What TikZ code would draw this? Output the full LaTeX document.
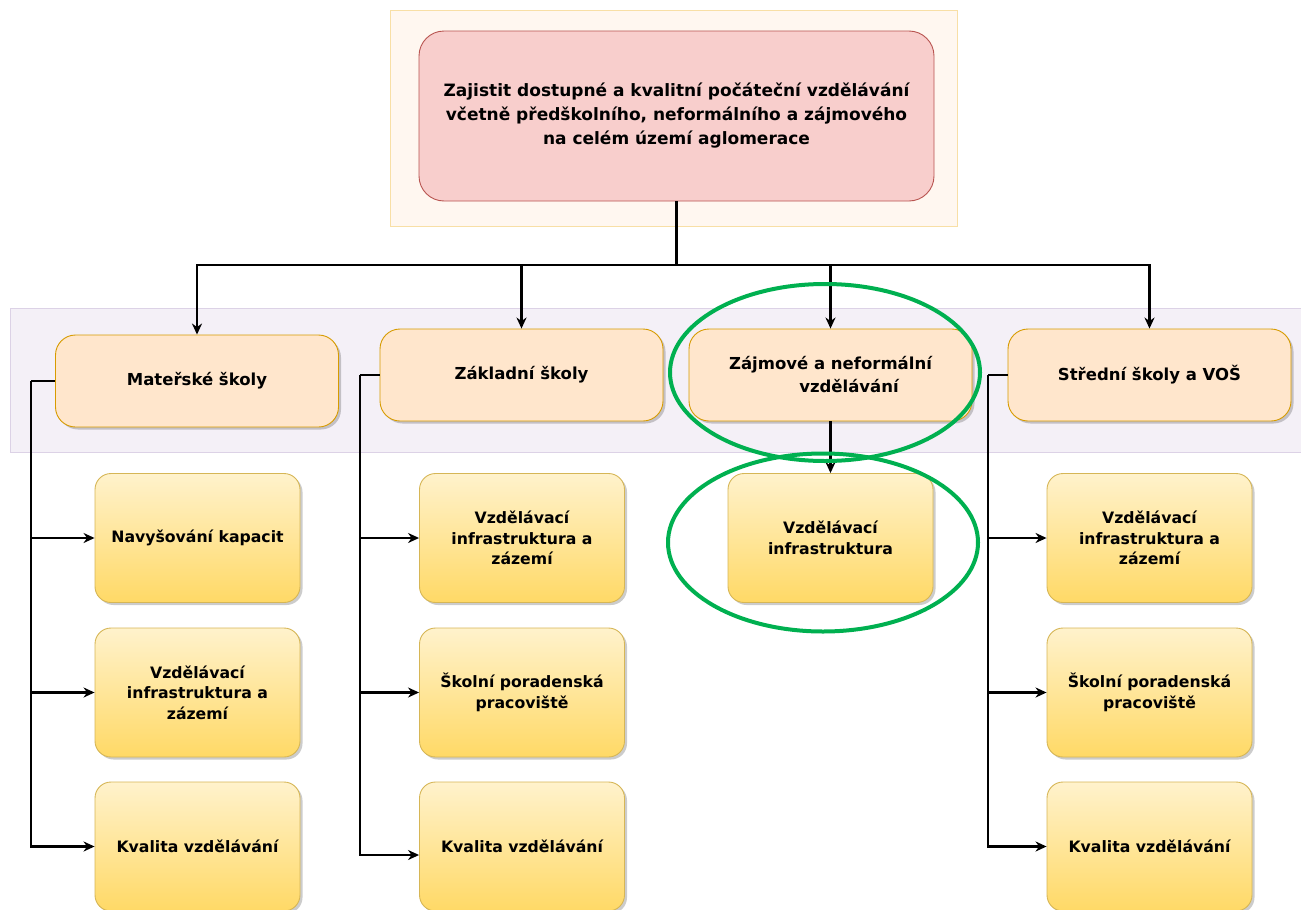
\documentclass[tikz,border=0pt]{standalone}
\usepackage{fontspec}
\setmainfont{DejaVu Sans}
\usetikzlibrary{arrows.meta,shadows,calc}
\definecolor{topfill}{HTML}{F8CECC}
\definecolor{topdraw}{HTML}{B85450}
\definecolor{midfill}{HTML}{FFE6CC}
\definecolor{middraw}{HTML}{D79B00}
\definecolor{lowtop}{HTML}{FFF2CC}
\definecolor{lowbot}{HTML}{FFD966}
\definecolor{lowdraw}{HTML}{D6B656}
\definecolor{bandfill}{HTML}{F4F0F7}
\definecolor{banddraw}{HTML}{DCD2E6}
\definecolor{bgfill}{HTML}{FFF7F0}
\definecolor{bgdraw}{HTML}{F8DFA6}
\definecolor{ringgreen}{HTML}{00B050}
\tikzset{
  shad/.style={drop shadow={shadow xshift=2.5pt,shadow yshift=-2.5pt,fill=black,opacity=0.2}},
  topbox/.style={draw=topdraw,fill=topfill,line width=0.9pt,rounded corners=25pt,
    minimum width=515pt,minimum height=170pt,align=center,
    font=\fontsize{17}{24}\selectfont\bfseries},
  midbox/.style={draw=middraw,fill=midfill,line width=0.9pt,rounded corners=20pt,shad,
    minimum width=283pt,minimum height=92pt,align=center,
    font=\fontsize{16.5}{23}\selectfont\bfseries},
  lowbox/.style={draw=lowdraw,top color=lowtop,bottom color=lowbot,line width=0.9pt,
    rounded corners=16pt,shad,minimum width=205pt,minimum height=129pt,align=center,
    font=\fontsize{15.7}{20.5}\selectfont\bfseries},
  link/.style={draw=black,line width=2.2pt},
  arr/.style={link,-{Stealth[length=11pt,width=10pt,inset=3.5pt]}},
  ring/.style={draw=ringgreen,line width=4pt}
}
\begin{document}
\begin{tikzpicture}[x=1pt,y=-1pt]
\useasboundingbox (0,0) rectangle (1301,910);
% backgrounds
\draw[draw=bgdraw,fill=bgfill,line width=0.9pt] (390,10) rectangle (957,226);
\draw[draw=banddraw,fill=bandfill,line width=0.9pt] (10,308) rectangle (1305,452);
% top
\node[topbox] (top) at (676.5,116) {Zajistit dostupné a kvalitní počáteční vzdělávání\\včetně předškolního, neformálního a zájmového\\na celém území aglomerace};
% level 2
\node[midbox] (ms) at (197,381) {Mateřské školy};
\node[midbox] (zs) at (521.5,375) {Základní školy};
\node[midbox] (zn) at (830.5,375) {Zájmové a neformální\\\hspace*{37pt}vzdělávání};
\node[midbox] (ss) at (1149.5,375) {Střední školy a VOŠ};
% level 3
\node[lowbox] (ms1) at (197.5,538) {Navyšování kapacit};
\node[lowbox] (ms2) at (197.5,692.5) {Vzdělávací\\infrastruktura a\\zázemí};
\node[lowbox] (ms3) at (197.5,846.5) {Kvalita vzdělávání};
\node[lowbox] (zs1) at (522,538) {Vzdělávací\\infrastruktura a\\zázemí};
\node[lowbox] (zs2) at (522,692.5) {Školní poradenská\\pracoviště};
\node[lowbox] (zs3) at (522,846.5) {Kvalita vzdělávání};
\node[lowbox] (zn1) at (830.5,538) {Vzdělávací\\infrastruktura};
\node[lowbox] (ss1) at (1149.5,538) {Vzdělávací\\infrastruktura a\\zázemí};
\node[lowbox] (ss2) at (1149.5,692.5) {Školní poradenská\\pracoviště};
\node[lowbox] (ss3) at (1149.5,846.5) {Kvalita vzdělávání};
% tree connectors
\coordinate (bus) at (676.5,265);
\draw[link] (top.south) -- (bus);
\draw[arr] (bus) -| (ms.north);
\draw[arr] (bus) -| (zs.north);
\draw[arr] (bus) -| (zn.north);
\draw[arr] (bus) -| (ss.north);
% lanes
\coordinate (msl) at (31,381);
\coordinate (zsl) at (360,375);
\coordinate (ssl) at (988,375);
\draw[link] (ms.west) -- (msl);
\draw[arr] (msl) |- (ms1.west);
\draw[arr] (msl) |- (ms2.west);
\draw[arr] (msl) |- (ms3.west);
\draw[link] (zs.west) -- (zsl);
\draw[arr] (zsl) |- (zs1.west);
\draw[arr] (zsl) |- (zs2.west);
\draw[arr] (zsl) |- ([yshift=-8.5pt]zs3.west);
\draw[link] (ss.west) -- (ssl);
\draw[arr] (ssl) |- (ss1.west);
\draw[arr] (ssl) |- (ss2.west);
\draw[arr] (ssl) |- (ss3.west);
\draw[arr] (zn.south) -- (zn1.north);
% green rings
\draw[ring] (825,372.5) ellipse [x radius=155, y radius=88.5];
\draw[ring] (823,542.5) ellipse [x radius=155, y radius=89];
\end{tikzpicture}
\end{document}
